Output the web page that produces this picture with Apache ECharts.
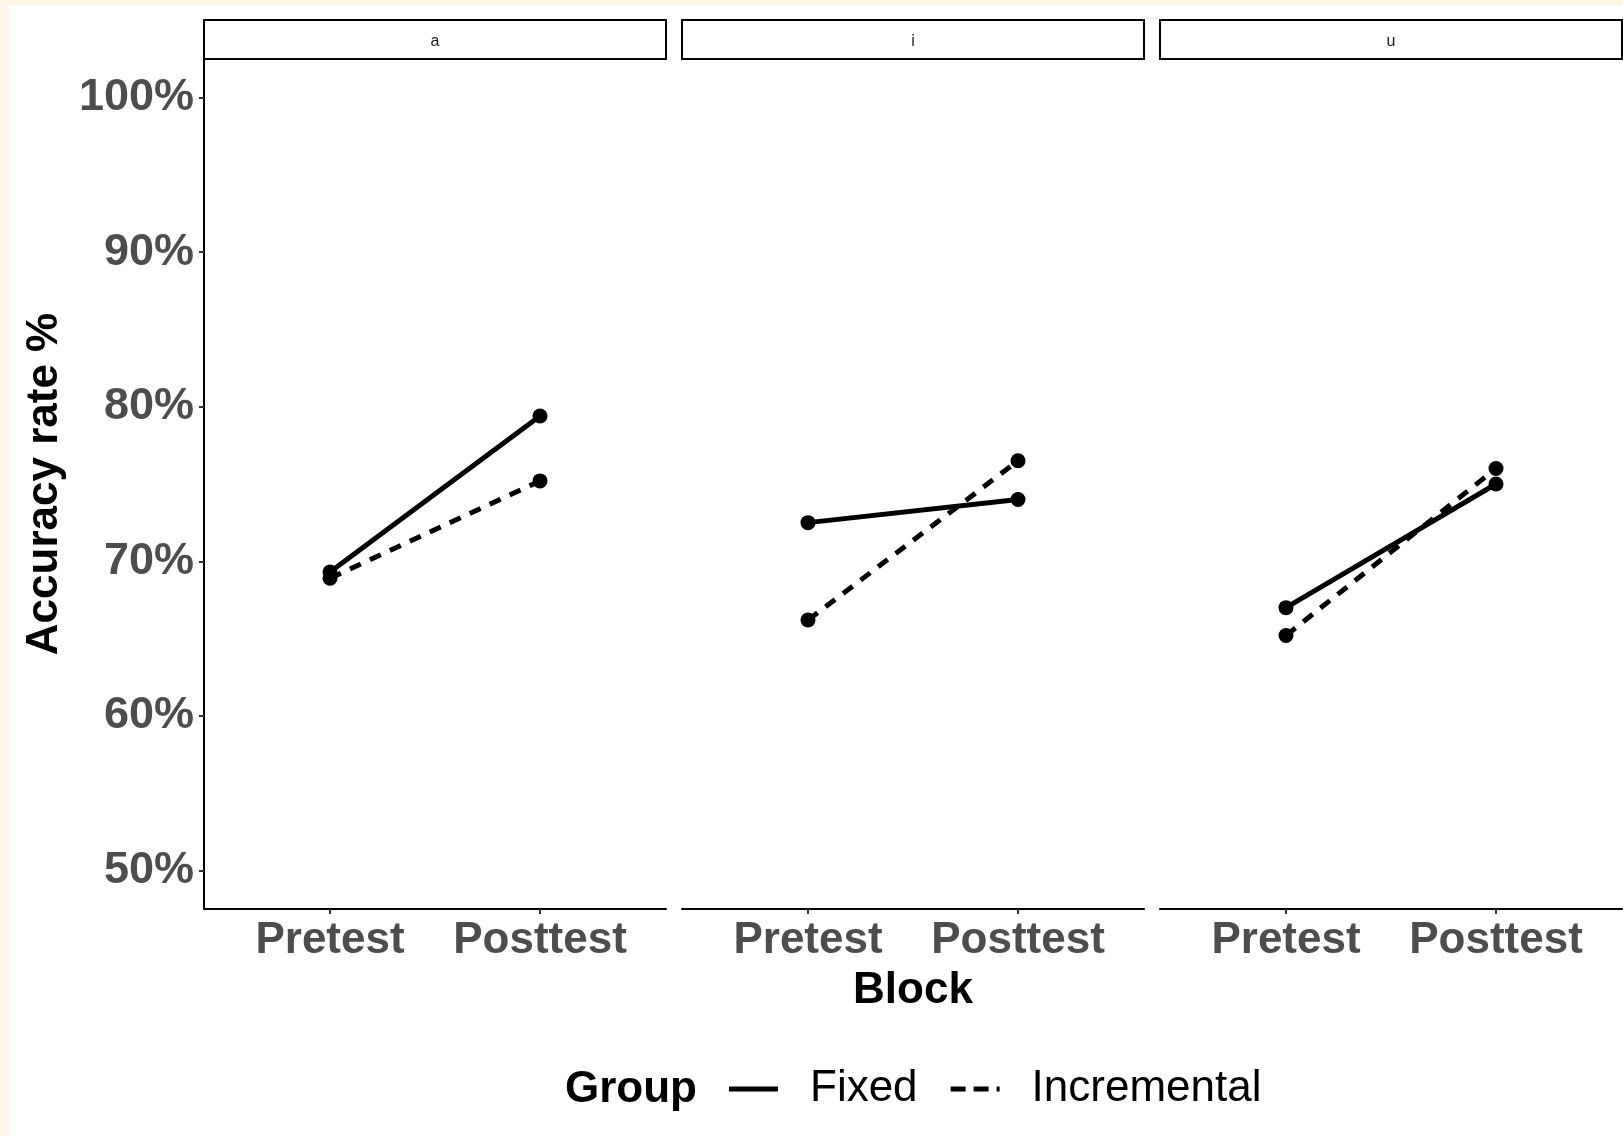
<!DOCTYPE html>
<html>
<head>
<meta charset="utf-8">
<script src="https://cdn.jsdelivr.net/npm/echarts@6/dist/echarts.min.js"></script>
<style>
  html, body { margin: 0; padding: 0; }
  #chart { width: 1623px; height: 1136px; }
</style>
</head>
<body>
<div id="chart"></div>
<script>
// 数据
var vowels = ['a', 'i', 'u'];
var blocks = ['Pretest', 'Posttest'];
var groups = ['Fixed', 'Incremental'];
// 每个面板: [Pretest, Posttest]
var fixedValues = [[69.3, 79.4], [72.5, 74.0], [67.0, 75.0]];
var incrementalValues = [[68.9, 75.2], [66.2, 76.5], [65.2, 76.0]];
var yTicks = [50, 60, 70, 80, 90, 100];

var font = '"Liberation Sans", Arial, sans-serif';
var panelLeft = [204, 682, 1160];
var panelWidth = 462;
var panelTop = 59;
var panelHeight = 850;

var myChart = echarts.init(document.getElementById('chart'));

var grids = [], xAxes = [], yAxes = [], series = [], graphics = [];

// 背景边
graphics.push({ type: 'rect', shape: { x: 0, y: 0, width: 1623, height: 5 }, style: { fill: '#fdf6e6' } });
graphics.push({ type: 'rect', shape: { x: 0, y: 0, width: 9, height: 1136 }, style: { fill: '#fdf6e6' } });

for (var i = 0; i < vowels.length; i++) {
  grids.push({ left: panelLeft[i], top: panelTop, width: panelWidth, height: panelHeight });
  xAxes.push({
    gridIndex: i,
    type: 'value',
    min: 0.4,
    max: 2.6,
    splitLine: { show: false },
    axisLine: { show: true, lineStyle: { color: '#000', width: 2 } },
    axisTick: { show: true, customValues: [1, 2], length: 5, lineStyle: { color: '#333', width: 2 } },
    axisLabel: {
      customValues: [1, 2],
      margin: 10,
      color: '#4d4d4d',
      fontSize: 44,
      fontWeight: 'bold',
      fontFamily: font,
      formatter: function (v) { return blocks[Math.round(v) - 1]; }
    },
    name: i === 1 ? 'Block' : '',
    nameLocation: 'middle',
    nameGap: 60,
    nameTextStyle: { color: '#000', fontSize: 44, fontWeight: 'bold', fontFamily: font }
  });
  yAxes.push({
    gridIndex: i,
    type: 'value',
    min: 47.5,
    max: 102.5,
    splitLine: { show: false },
    axisLine: { show: i === 0, lineStyle: { color: '#000', width: 2 } },
    axisTick: { show: i === 0, customValues: yTicks, length: 5, lineStyle: { color: '#333', width: 2 } },
    axisLabel: {
      show: i === 0,
      customValues: yTicks,
      margin: 10,
      color: '#4d4d4d',
      fontSize: 45,
      fontWeight: 'bold',
      fontFamily: font,
      formatter: function (v) { return v + '%'; }
    },
    name: i === 0 ? 'Accuracy rate %' : '',
    nameLocation: 'middle',
    nameGap: 137,
    nameTextStyle: { color: '#000', fontSize: 44, fontWeight: 'bold', fontFamily: font }
  });

  var fixedData = fixedValues[i].map(function (v, k) { return [k + 1, v]; });
  var incData = incrementalValues[i].map(function (v, k) { return [k + 1, v]; });
  series.push({
    name: groups[0], type: 'line', xAxisIndex: i, yAxisIndex: i, data: fixedData,
    symbol: 'circle', symbolSize: 15, itemStyle: { color: '#000' },
    lineStyle: { color: '#000', width: 5 }, animation: false
  });
  series.push({
    name: groups[1], type: 'line', xAxisIndex: i, yAxisIndex: i, data: incData,
    symbol: 'circle', symbolSize: 15, itemStyle: { color: '#000' },
    lineStyle: { color: '#000', width: 5, type: [12, 10] }, animation: false
  });

  // 分面标签
  graphics.push({
    type: 'rect',
    shape: { x: panelLeft[i], y: 20, width: panelWidth, height: 39 },
    style: { fill: '#fff', stroke: '#000', lineWidth: 2 }
  });
  graphics.push({
    type: 'text',
    x: panelLeft[i] + panelWidth / 2, y: 42,
    style: { text: vowels[i], fill: '#1a1a1a', fontSize: 16, fontFamily: font, align: 'center', verticalAlign: 'middle' }
  });
}

// 图例标题
graphics.push({
  type: 'text', x: 565, y: 1090,
  style: { text: 'Group', fill: '#000', fontSize: 44, fontWeight: 'bold', fontFamily: font, verticalAlign: 'middle' }
});

var optionLine = {
  backgroundColor: '#fff',
  grid: grids,
  xAxis: xAxes,
  yAxis: yAxes,
  series: series,
  graphic: graphics,
  legend: {
    left: 729,
    top: 1067,
    padding: 0,
    itemWidth: 49,
    itemHeight: 5,
    itemGap: 33,
    data: [
      { name: groups[0], icon: 'path://M0,0h49v5h-49z' },
      { name: groups[1], icon: 'path://M0,0h15v5h-15z M23,0h15v5h-15z M46,0h3v5h-3z' }
    ],
    itemStyle: { color: '#000' },
    textStyle: { color: '#000', fontSize: 44, fontFamily: font, padding: [0, 0, 0, 27] }
  }
};
myChart.setOption(optionLine);
</script>
</body>
</html>
